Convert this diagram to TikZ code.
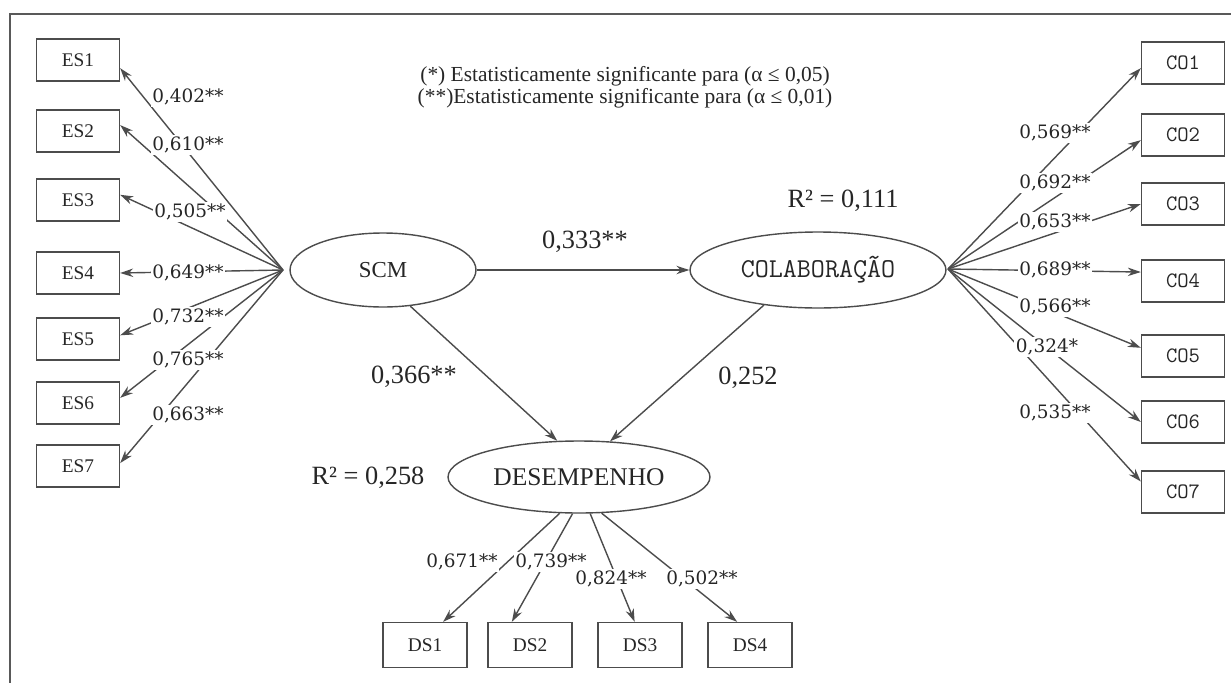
\documentclass[tikz,border=0pt]{standalone}
\usepackage{fontspec}
\setmainfont{Liberation Serif}
\newfontfamily\coeffont{DejaVu Serif}
\usetikzlibrary{arrows.meta,positioning,shapes.geometric}

\begin{document}
\begin{tikzpicture}[x=0.02cm,y=-0.02cm,
    ind/.style={draw=black!70,line width=0.8pt,minimum width=1.66cm,minimum height=0.84cm,
      inner sep=0pt,text=black!85,font=\fontsize{11}{13}\selectfont},
    lat/.style={ellipse,draw=black!70,line width=0.8pt,inner sep=0pt,text=black!85},
    seta/.style={draw=black!70,line width=0.8pt,-{Stealth[length=0.26cm,width=0.17cm]}},
    carga/.style={fill=white,inner sep=1pt,text=black!85,font=\coeffont\fontsize{10.5}{12}\selectfont},
    coef/.style={text=black!85,font=\fontsize{15}{17}\selectfont}]
  \useasboundingbox (0,0) rectangle (1231,683);

  % moldura
  \draw[black!65,line width=0.05cm] (10,683) -- (10,14) -- (1231,14);

  % legenda
  \node[align=center,text=black!85,font=\fontsize{12.2}{12.5}\selectfont] (legenda) at (625,87)
    {(*) Estatisticamente significante para (α ≤ 0,05)\\(**)Estatisticamente significante para (α ≤ 0,01)};

  % construtos
  \node[lat,minimum width=3.72cm,minimum height=1.48cm,font=\fontsize{13}{15}\selectfont] (SCM) at (383,270) {SCM};
  \node[lat,minimum width=5.12cm,minimum height=1.52cm,font=\ttfamily\fontsize{15.5}{17}\selectfont] (COL) at (818,270) {COLABORAÇÃO};
  \node[lat,minimum width=5.24cm,minimum height=1.44cm,font=\fontsize{14.5}{16}\selectfont] (DES) at (579,477) {DESEMPENHO};

  % indicadores ES
  \node[ind] (ES1) at (78,60)  {ES1};
  \node[ind] (ES2) at (78,131) {ES2};
  \node[ind] (ES3) at (78,200) {ES3};
  \node[ind] (ES4) at (78,273) {ES4};
  \node[ind] (ES5) at (78,339) {ES5};
  \node[ind] (ES6) at (78,403) {ES6};
  \node[ind] (ES7) at (78,466) {ES7};

  % indicadores CO
  \node[ind,font=\ttfamily\fontsize{12.5}{14}\selectfont] (CO1) at (1183,63)  {CO1};
  \node[ind,font=\ttfamily\fontsize{12.5}{14}\selectfont] (CO2) at (1183,135) {CO2};
  \node[ind,font=\ttfamily\fontsize{12.5}{14}\selectfont] (CO3) at (1183,204) {CO3};
  \node[ind,font=\ttfamily\fontsize{12.5}{14}\selectfont] (CO4) at (1183,281) {CO4};
  \node[ind,font=\ttfamily\fontsize{12.5}{14}\selectfont] (CO5) at (1183,356) {CO5};
  \node[ind,font=\ttfamily\fontsize{12.5}{14}\selectfont] (CO6) at (1183,422) {CO6};
  \node[ind,font=\ttfamily\fontsize{12.5}{14}\selectfont] (CO7) at (1183,492) {CO7};

  % indicadores DS
  \node[ind,minimum width=1.68cm,minimum height=0.9cm] (DS1) at (425,645) {DS1};
  \node[ind,minimum width=1.68cm,minimum height=0.9cm] (DS2) at (530,645) {DS2};
  \node[ind,minimum width=1.68cm,minimum height=0.9cm] (DS3) at (640,645) {DS3};
  \node[ind,minimum width=1.68cm,minimum height=0.9cm] (DS4) at (750,645) {DS4};

  % pontos de saida das cargas
  \coordinate (scmHub) at (283,270);
  \coordinate (colHub) at (948,269);

  % cargas SCM -> ES
  \draw[seta] (scmHub) -- (ES1.-11);
  \draw[seta] (scmHub) -- (ES2.8);
  \draw[seta] (scmHub) -- (ES3.7);
  \draw[seta] (scmHub) -- (ES4.east);
  \draw[seta] (scmHub) -- (ES5.5);
  \draw[seta] (scmHub) -- (ES6.7);
  \draw[seta] (scmHub) -- (ES7.4);

  % cargas COLABORACAO -> CO
  \draw[seta] (colHub) -- (CO1.187);
  \draw[seta] (colHub) -- (CO2.187);
  \draw[seta] (colHub) -- (CO3.west);
  \draw[seta] (colHub) -- (CO4.168);
  \draw[seta] (colHub) -- (CO5.169);
  \draw[seta] (colHub) -- (CO6.west);
  \draw[seta] (colHub) -- (CO7.166);

  % cargas DESEMPENHO -> DS
  \draw[seta] (DES.242) -- (DS1.52);
  \draw[seta] (DES.260) -- (DS2.128);
  \draw[seta] (DES.287) -- (DS3.103);
  \draw[seta] (DES.302) -- (DS4.119);

  % caminhos estruturais
  \draw[seta] (SCM) -- (COL);
  \draw[seta] (SCM.-53) -- (DES.121);
  \draw[seta] (COL.213) -- (DES.49);

  % coeficientes e R2
  \node[coef] (cSC) at (585,242) {0,333**};
  \node[coef] (cSD) at (414,377) {0,366**};
  \node[coef] (cCD) at (748,378) {0,252};
  \node[coef] (rCOL) at (843,201) {R² = 0,111};
  \node[coef] (rDES) at (368,478) {R² = 0,258};

  % rotulos das cargas ES
  \node[carga] (lES1) at (188,97)  {0,402**};
  \node[carga] (lES2) at (188,145) {0,610**};
  \node[carga] (lES3) at (190,212) {0,505**};
  \node[carga] (lES4) at (188,273) {0,649**};
  \node[carga] (lES5) at (188,317) {0,732**};
  \node[carga] (lES6) at (188,360) {0,765**};
  \node[carga] (lES7) at (188,415) {0,663**};

  % rotulos das cargas CO
  \node[carga] (lCO1) at (1055,133) {0,569**};
  \node[carga] (lCO2) at (1055,183) {0,692**};
  \node[carga] (lCO3) at (1055,222) {0,653**};
  \node[carga] (lCO4) at (1055,270) {0,689**};
  \node[carga] (lCO5) at (1055,307) {0,566**};
  \node[carga] (lCO6) at (1047,347) {0,324*};
  \node[carga] (lCO7) at (1055,413) {0,535**};

  % rotulos das cargas DS
  \node[carga] (lDS1) at (462,562) {0,671**};
  \node[carga] (lDS2) at (551,562) {0,739**};
  \node[carga] (lDS3) at (611,579) {0,824**};
  \node[carga] (lDS4) at (702,579) {0,502**};
\end{tikzpicture}
\end{document}
